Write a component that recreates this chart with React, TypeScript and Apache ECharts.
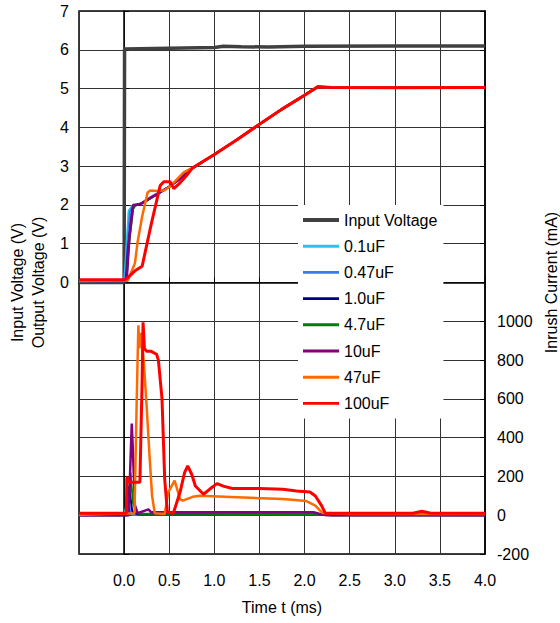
import React, { useEffect, useRef } from 'react';
import * as echarts from 'echarts';

// ---- Data (time in ms) ----
const legendNames = ['Input Voltage', '0.1uF', '0.47uF', '1.0uF', '4.7uF', '10uF', '47uF', '100uF'];

const inputVoltage = [[-0.5, 0], [0.0, 0], [0.005, 6.02], [0.5, 6.04], [1.0, 6.06], [1.1, 6.09], [1.3, 6.08], [1.6, 6.07], [2.0, 6.09], [3.0, 6.1], [4.0, 6.1]];

// common output ramp shared by all capacitors once they merge
const outputRamp = [[0.5, 2.47], [0.6, 2.64], [0.76, 2.95], [1.0, 3.3], [1.25, 3.68], [1.5, 4.08], [1.75, 4.47], [2.0, 4.83], [2.15, 5.05], [2.3, 5.03], [3.0, 5.02], [4.0, 5.03]];

const vOut01uF = [[-0.5, 0.03], [0.0, 0.03], [0.015, 0.5], [0.05, 1.85], [0.09, 1.98], [0.2, 2.05], [0.35, 2.25]];
const vOut047uF = [[-0.5, 0.03], [0.01, 0.03], [0.03, 0.7], [0.065, 1.83], [0.1, 1.98], [0.2, 2.05], [0.35, 2.25]];
const vOut10uF = [[-0.5, 0.03], [0.02, 0.03], [0.04, 0.8], [0.09, 1.88], [0.12, 1.98], [0.2, 2.04], [0.35, 2.25]];
const vOut47uF = [[-0.5, 0.03], [0.025, 0.03], [0.05, 0.9], [0.1, 1.9], [0.13, 2.0], [0.2, 2.04], [0.35, 2.25]];
const vOut10_uF = [[-0.5, 0.04], [0.028, 0.04], [0.06, 1.2], [0.1, 2.0], [0.18, 2.02], [0.3, 2.2], [0.4, 2.33]];
const vOut47_uF = [[-0.5, 0.04], [0.04, 0.05], [0.12, 0.5], [0.15, 1.05], [0.2, 1.7], [0.26, 2.32], [0.29, 2.37], [0.38, 2.36], [0.45, 2.38], [0.52, 2.5], [0.6, 2.7], [0.66, 2.84], [0.76, 2.96], [1.0, 3.3]];
const vOut100uF = [[-0.5, 0.07], [0.0, 0.07], [0.03, 0.1], [0.12, 0.3], [0.2, 0.42], [0.3, 1.5], [0.4, 2.5], [0.44, 2.6], [0.51, 2.6], [0.55, 2.42], [0.62, 2.57], [0.7, 2.78], [0.76, 2.96], [1.0, 3.3]];

const iIn01uF = [[-0.5, 0], [0.0, 0], [0.03, 60], [0.05, 10], [0.1, 2], [2.2, 2], [4.0, 0]];
const iIn047uF = [[-0.5, 0], [0.02, 0], [0.04, 100], [0.07, 10], [0.12, 3], [2.2, 3], [4.0, 0]];
const iIn10uF = [[-0.5, 0], [0.03, 0], [0.055, 150], [0.09, 20], [0.15, 4], [2.2, 4], [2.3, 0], [4.0, 0]];
const iIn47uF = [[-0.5, 0], [0.04, 0], [0.07, 220], [0.1, 60], [0.15, 8], [0.3, 8], [2.2, 5], [2.3, 0], [4.0, 0]];
const iIn10_uF = [[-0.5, 0], [0.05, 0], [0.065, 200], [0.085, 473], [0.1, 300], [0.12, 50], [0.15, 10], [0.27, 30], [0.3, 15], [2.1, 15], [2.18, 5], [2.25, 0], [4.0, 0]];
const iIn47_uF = [[-0.5, 2], [0.115, 10], [0.14, 600], [0.158, 979], [0.17, 860], [0.19, 940], [0.22, 780], [0.25, 560], [0.28, 320], [0.31, 100], [0.34, 10], [0.45, 6], [0.49, 119], [0.56, 178], [0.62, 83], [0.65, 75], [0.76, 95], [0.84, 100], [1.76, 83], [2.02, 73], [2.12, 49], [2.2, 11], [2.5, 6], [3.3, 8], [4.0, 6]];
const iIn100uF = [[-0.5, 10], [0.025, 10], [0.03, 190], [0.04, 196], [0.055, 170], [0.175, 170], [0.2, 700], [0.21, 995], [0.225, 860], [0.25, 845], [0.3, 845], [0.36, 830], [0.38, 800], [0.42, 600], [0.45, 185], [0.48, 15], [0.545, 10], [0.62, 118], [0.67, 220], [0.705, 254], [0.75, 210], [0.79, 151], [0.88, 108], [0.95, 135], [1.03, 163], [1.1, 150], [1.2, 138], [1.5, 138], [1.76, 134], [1.91, 125], [2.06, 120], [2.12, 99], [2.19, 48], [2.23, 10], [3.2, 10], [3.3, 20], [3.4, 10], [4.0, 10]];

// ---- Styles ----
const FONT = "'Liberation Sans', Arial, sans-serif";
const inputColor = '#404040';
const capStyles = [
  { color: '#1ec8f0', width: 2 },
  { color: '#3c78f0', width: 2 },
  { color: '#000080', width: 2 },
  { color: '#008000', width: 2 },
  { color: '#800080', width: 2.5 },
  { color: '#ff6a00', width: 2.5 },
  { color: '#ff0000', width: 3 },
];
const capVoltages = [
  vOut01uF.concat(outputRamp),
  vOut047uF.concat(outputRamp),
  vOut10uF.concat(outputRamp),
  vOut47uF.concat(outputRamp),
  vOut10_uF.concat(outputRamp),
  vOut47_uF.concat(outputRamp.slice(4)),
  vOut100uF.concat(outputRamp.slice(4)),
];
const capCurrents = [iIn01uF, iIn047uF, iIn10uF, iIn47uF, iIn10_uF, iIn47_uF, iIn100uF];

const thickIcon = 'path://M0,0H100V11H0Z';
const thinIcon = 'path://M0,0H100V8H0Z';

function buildOption(): any {
  const series: any[] = [
    {
      name: legendNames[0], type: 'line', yAxisIndex: 0, data: inputVoltage, symbol: 'none',
      lineStyle: { color: inputColor, width: 3.5 }, itemStyle: { color: inputColor },
    },
  ];
  capStyles.forEach((s, k) => {
    const name = legendNames[k + 1];
    series.push({
      name, type: 'line', yAxisIndex: 0, data: capVoltages[k], symbol: 'none',
      lineStyle: { color: s.color, width: s.width }, itemStyle: { color: s.color },
    });
    series.push({
      name, type: 'line', yAxisIndex: 1, data: capCurrents[k], symbol: 'none',
      lineStyle: { color: s.color, width: s.width }, itemStyle: { color: s.color },
    });
  });

  return {
    animation: false,
    backgroundColor: '#fff',
    textStyle: { fontFamily: FONT },
    grid: {
      left: 79, right: 75, top: 11, bottom: 69, show: true, borderColor: '#000', borderWidth: 1.5,
      containLabel: false, outerBoundsMode: 'none',
    },
    legend: {
      data: legendNames.map((n, i) => ({ name: n, icon: i === 0 ? thickIcon : thinIcon })),
      orient: 'vertical',
      left: 298,
      top: 205,
      backgroundColor: '#fff',
      padding: [7, 6, 7, 5],
      itemWidth: 36,
      itemHeight: 16,
      itemGap: 10.2,
      textStyle: { fontSize: 16, color: '#000', fontFamily: FONT },
    },
    xAxis: {
      type: 'value', min: -0.5, max: 4, interval: 0.5,
      name: 'Time t (ms)', nameLocation: 'middle', nameGap: 45,
      nameTextStyle: { fontSize: 16, color: '#000', fontFamily: FONT },
      axisLine: { lineStyle: { color: '#000', width: 1.5 } },
      axisTick: { inside: true, length: 5, lineStyle: { color: '#000' } },
      axisLabel: { fontSize: 16, color: '#000', margin: 18, fontFamily: FONT, formatter: (v: number) => (v < 0 ? '' : v.toFixed(1)) },
      splitLine: { show: true, lineStyle: { color: '#333', width: 1 } },
    },
    yAxis: [
      {
        type: 'value', min: -7, max: 7, interval: 1, position: 'left',
        name: 'Input Voltage (V)\nOutput Voltage (V)', nameLocation: 'middle', nameGap: 30, nameRotate: 90,
        nameTextStyle: { fontSize: 16, color: '#000', lineHeight: 21, fontFamily: FONT },
        axisLine: { show: true, lineStyle: { color: '#000', width: 1.5 } },
        axisTick: { show: true, inside: true, length: 5, lineStyle: { color: '#000' } },
        axisLabel: { fontSize: 16, color: '#000', margin: 10, fontFamily: FONT, formatter: (v: number) => (v < 0 ? '' : String(v)) },
        splitLine: { show: true, lineStyle: { color: '#333', width: 1 } },
      },
      {
        type: 'value', min: -200, max: 2600, interval: 200, position: 'right',
        name: 'Inrush Current (mA)', nameLocation: 'middle', nameGap: 55, nameRotate: 90,
        nameTextStyle: { fontSize: 16, color: '#000', fontFamily: FONT },
        axisLine: { show: true, lineStyle: { color: '#000', width: 1.5 } },
        axisTick: { show: true, inside: true, length: 5, lineStyle: { color: '#000' } },
        axisLabel: { fontSize: 16, color: '#000', margin: 12, fontFamily: FONT, formatter: (v: number) => (v > 1000 ? '' : String(v)) },
        splitLine: { show: false },
      },
    ],
    series,
  };
}

export default function App() {
  const ref = useRef<HTMLDivElement>(null);
  useEffect(() => {
    const chart = echarts.init(ref.current!, null, { renderer: 'svg', width: 560, height: 623 });
    chart.setOption(buildOption());
    return () => chart.dispose();
  }, []);
  return (
    <div
      ref={ref}
      style={{ position: 'fixed', left: 0, top: 0, width: 560, height: 623, background: '#fff' }}
    />
  );
}
